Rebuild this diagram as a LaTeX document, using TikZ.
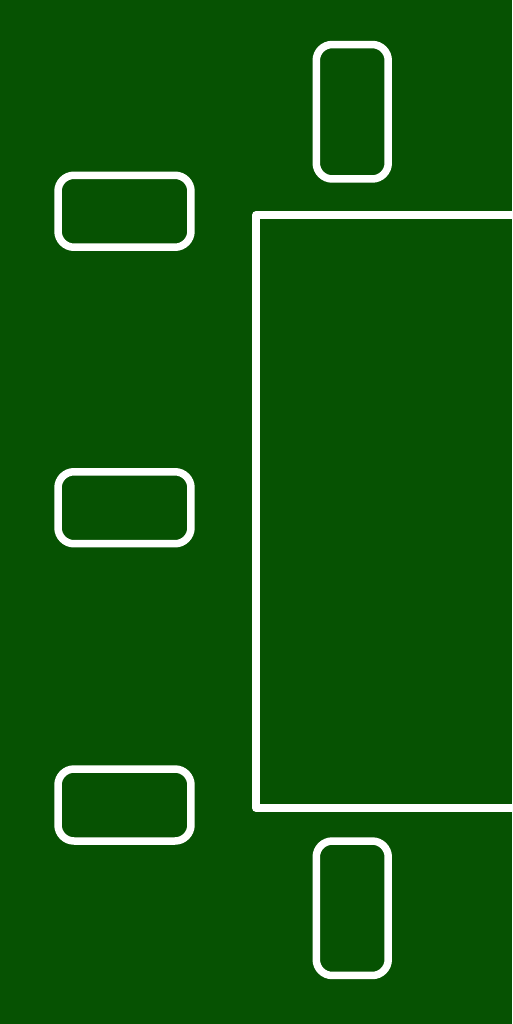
\documentclass[tikz,border=0pt]{standalone}
\usepackage{tikz}
\definecolor{feltgreen}{RGB}{6,82,2}
\begin{document}
\begin{tikzpicture}[x=0.02cm,y=-0.02cm,
  chair/.style={rectangle,rounded corners=0.32cm,draw=white,line width=0.15cm,inner sep=0pt,minimum width=2.66cm,minimum height=1.44cm},
  sidechair/.style={chair,minimum width=1.44cm,minimum height=2.69cm}]
\useasboundingbox (0,0) rectangle (512,1024);
\fill[feltgreen] (0,0) rectangle (512,1024);
\node[sidechair] (chairtop) at (352.25,111.75) {};
\node[chair] (chairleftA) at (124.5,211.25) {};
\node[chair] (chairleftB) at (124.5,507.75) {};
\node[chair] (chairleftC) at (124.5,805) {};
\node[sidechair] (chairbottom) at (352.25,908.25) {};
\begin{scope}
\clip (0,0) rectangle (512,1024);
\draw[white,line width=0.15cm,line join=round] (540,215) -- (256,215) -- (256,808) -- (540,808);
\end{scope}
\end{tikzpicture}
\end{document}
